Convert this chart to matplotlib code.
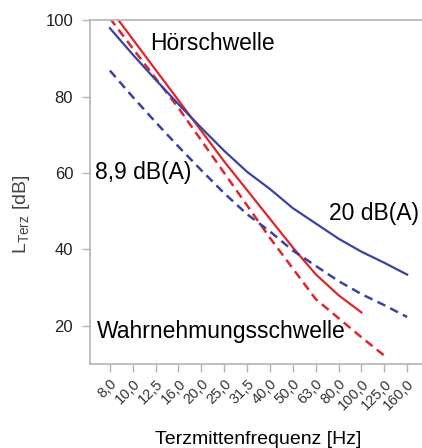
import matplotlib.pyplot as plt

plt.rcParams['font.family'] = ['Liberation Sans', 'DejaVu Sans']

# Terzmittenfrequenzen
freq_labels = ["8,0", "10,0", "12,5", "16,0", "20,0", "25,0", "31,5", "40,0",
               "50,0", "63,0", "80,0", "100,0", "125,0", "160,0"]

# Hörschwelle (bis 100 Hz)
hoer = [103.0, 95.0, 87.0, 79.0, 71.0, 63.0, 55.5, 48.0, 40.5, 33.5, 28.0, 23.5]
# Wahrnehmungsschwelle (bis 125 Hz)
wahrn = [100.5, 92.6, 84.8, 77.0, 68.5, 60.0, 51.5, 43.0, 35.0, 27.0, 22.0, 17.0, 12.2]
# Kurve 20 dB(A)
k20 = [97.9, 91.0, 84.4, 78.0, 71.8, 65.8, 60.3, 55.8, 50.8, 46.8, 42.8, 39.4, 36.5, 33.4]
# Kurve 8,9 dB(A)
k89 = [86.8, 79.9, 73.3, 66.9, 60.7, 54.7, 49.2, 44.7, 39.7, 35.7, 31.7, 28.3, 25.4, 22.3]

red = "#e0262c"
blue = "#3a42a2"
grey = "#b4b4b4"

fig = plt.figure(figsize=(4.22, 4.48), dpi=100)
ax = fig.add_axes([0.213, 0.1875, 0.787, 0.7675])

ax.plot(range(len(hoer)), hoer, color=red, lw=1.6)
ax.plot(range(len(wahrn)), wahrn, color=red, lw=1.8, ls=(0, (3.5, 2.2)))
ax.plot(range(len(k20)), k20, color=blue, lw=1.6)
ax.plot(range(len(k89)), k89, color=blue, lw=1.8, ls=(0, (3.5, 2.2)))

ax.set_xlim(-0.875, 13.65)
ax.set_ylim(10, 100)

ax.set_xticks(range(len(freq_labels)))
ax.set_xticklabels(freq_labels, rotation=45, ha="right", va="top",
                   rotation_mode="anchor", fontsize=10.5, color="#333333")
ax.set_yticks([20, 40, 60, 80, 100])
ax.tick_params(axis="y", labelsize=12, labelcolor="#222222", color=grey,
               length=6, width=1, pad=6)
ax.tick_params(axis="x", color=grey, length=6, width=1, pad=3)

for s in ["left", "bottom", "top"]:
    ax.spines[s].set_color(grey)
    ax.spines[s].set_linewidth(1.2)
ax.spines["right"].set_visible(False)

# Beschriftungen im Diagramm
ax.text(1.75, 94, "Hörschwelle", fontsize=16.5, va="center", ha="left")
ax.text(-0.66, 60, "8,9 dB(A)", fontsize=16.5, va="center", ha="left")
ax.text(9.58, 49.3, "20 dB(A)", fontsize=16.5, va="center", ha="left")
ax.text(-0.57, 18.4, "Wahrnehmungsschwelle", fontsize=16.5, va="center", ha="left")

# Achsentitel
fig.text(0.611, 0.009, "Terzmittenfrequenz [Hz]", fontsize=14,
         ha="center", va="baseline")
fig.text(0.052, 0.522, r"$\mathregular{L_{Terz}}$ [dB]", fontsize=14,
         color="#444444", rotation=90, ha="center", va="center")

fig.savefig("out.png", dpi=100)
